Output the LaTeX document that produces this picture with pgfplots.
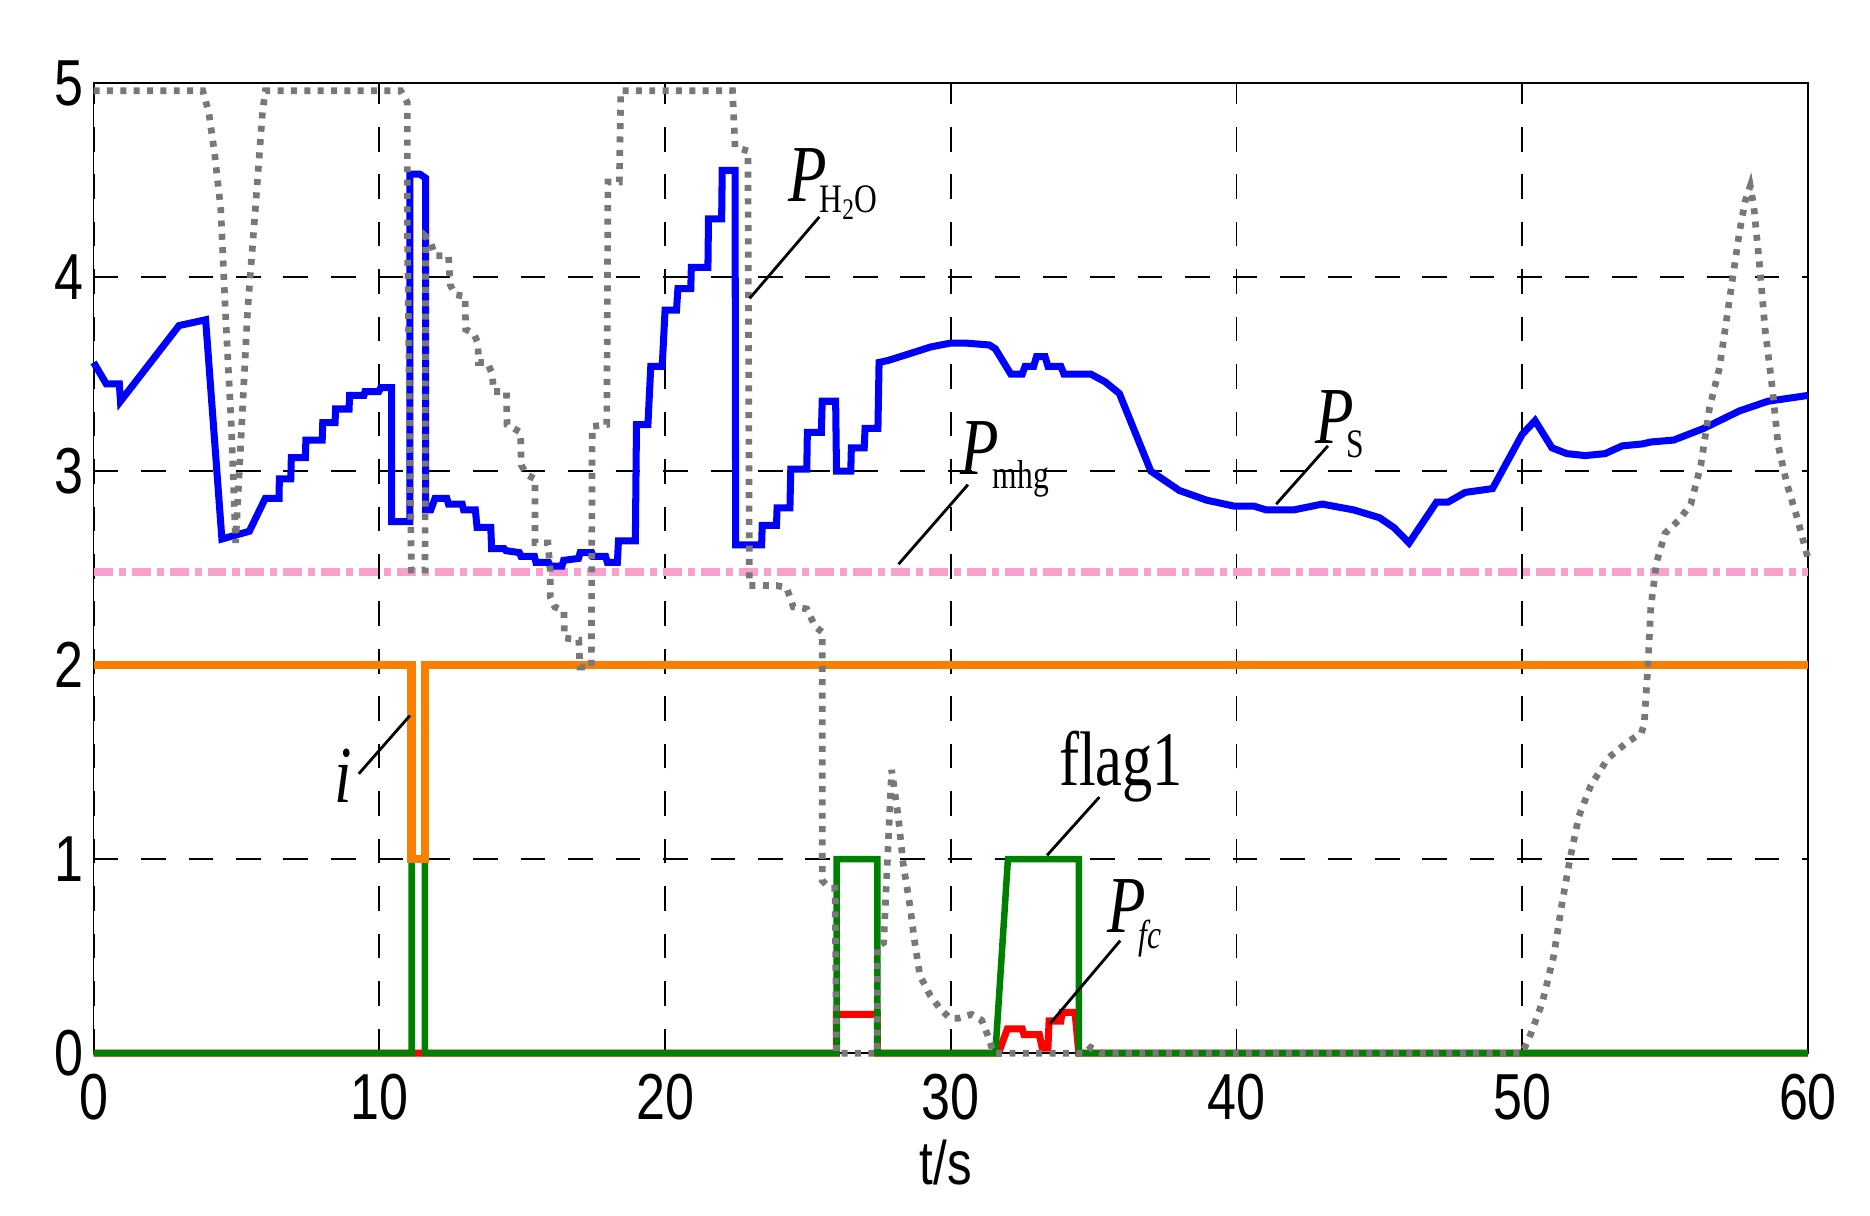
\documentclass[border=0pt]{standalone}
\usepackage{pgfplots}
\pgfplotsset{compat=1.18}
\usepackage{fontspec}
\setmainfont[FakeStretch=0.78]{Liberation Serif}
\newfontfamily\tickfont[FakeStretch=0.8]{Liberation Sans}

\definecolor{cblue}{RGB}{0,0,255}
\definecolor{cgreen}{RGB}{0,128,0}
\definecolor{corange}{RGB}{248,128,0}
\definecolor{cred}{RGB}{255,0,0}
\definecolor{cgray}{RGB}{120,120,120}
\definecolor{cpink}{RGB}{250,160,205}

\newcommand{\lblfont}{\fontsize{23}{23}\selectfont}
\newcommand{\subfont}{\fontsize{11.5}{11.5}\selectfont}

\begin{document}
\begin{tikzpicture}
\useasboundingbox (-0.936,-1.62) rectangle (17.76,10.53);
\begin{axis}[
    scale only axis,
    width=17.14cm,
    height=9.70cm,
    xmin=0, xmax=60,
    ymin=0, ymax=5,
    xtick={0,10,20,30,40,50,60},
    ytick={0,1,2,3,4,5},
    major tick length=0pt,
    axis line style={line width=0.5pt},
    xmajorgrids=true,
    ymajorgrids=true,
    grid style={black, line width=0.55pt, dash pattern=on 7pt off 6.5pt},
    /pgf/number format/assume math mode=true,
    ticklabel style={font=\tickfont\fontsize{18.5}{18.5}\selectfont, inner sep=0pt},
    xticklabel style={anchor=north, yshift=-0.2cm},
    yticklabel style={anchor=east, xshift=-0.09cm},
    xlabel={t/s},
    xlabel style={font=\tickfont\fontsize{17.5}{17.5}\selectfont, at={(axis description cs:0.497,-0.113)}, anchor=center},
    clip=false,
]

% P_mhg
\addplot[cpink, line width=2.4pt, dash pattern=on 5.4pt off 1.7pt on 2pt off 1.7pt]
coordinates {(0,2.48) (60,2.48)};

% P_fc
\addplot[cred, line width=2pt]
coordinates {
(0,0) (26.0,0) (26.0,0.2) (27.43,0.2) (27.43,0) (31.67,0) (31.98,0.126)
(32.5,0.126) (32.56,0.096) (33.1,0.096) (33.2,0.026) (33.4,0.026)
(33.44,0.166) (33.85,0.166) (33.9,0.21) (34.35,0.21) (34.48,0) (60,0)
};

% flag1
\addplot[cgreen, line width=1.85pt]
coordinates {
(0,0) (11.13,0) (11.13,1) (11.59,1) (11.59,0) (26.0,0) (26.0,1)
(27.43,1) (27.43,0) (31.56,0) (32.0,1) (34.48,1) (34.48,0) (60,0)
};

% i
\addplot[corange, line width=2.4pt]
coordinates {(0,2) (11.13,2) (11.13,1) (11.59,1) (11.59,2) (60,2)};

% P_S
\addplot[cblue, line width=2pt]
coordinates {
(0,3.56) (0.44,3.45) (0.9,3.45) (0.94,3.36) (2.99,3.75) (3.92,3.78)
(4.49,2.65) (5.45,2.69) (6.01,2.86) (6.49,2.86) (6.5,2.96) (6.9,2.96)
(6.92,3.07) (7.41,3.07) (7.43,3.16) (8.0,3.16) (8.02,3.25) (8.45,3.25)
(8.47,3.32) (8.94,3.32) (8.96,3.39) (9.46,3.39) (9.5,3.41) (9.98,3.41)
(10.05,3.43) (10.43,3.43) (10.43,2.74) (11.07,2.74) (11.07,4.53)
(11.42,4.53) (11.62,4.51) (11.62,2.80) (11.8,2.80) (11.95,2.86)
(12.36,2.86) (12.42,2.83) (12.9,2.83) (12.95,2.80) (13.36,2.80)
(13.42,2.71) (13.9,2.71) (13.93,2.60) (14.37,2.60) (14.43,2.59)
(14.9,2.58) (14.96,2.56) (15.43,2.56) (15.48,2.53) (15.92,2.53)
(15.98,2.51) (16.39,2.51) (16.45,2.54) (16.97,2.55) (17.03,2.58)
(17.43,2.58) (17.48,2.56) (17.92,2.56) (17.98,2.53) (18.33,2.53)
(18.37,2.64) (18.96,2.64) (19.0,3.24) (19.4,3.24) (19.5,3.54) (19.9,3.54)
(20.0,3.83) (20.4,3.83) (20.45,3.94) (20.9,3.94) (20.92,4.05) (21.5,4.05)
(21.52,4.30) (21.98,4.30) (22.0,4.55) (22.45,4.55) (22.47,2.62)
(23.38,2.62) (23.4,2.72) (23.9,2.72) (23.92,2.81) (24.37,2.81)
(24.4,3.01) (24.96,3.01) (24.98,3.20) (25.47,3.20) (25.5,3.36)
(25.97,3.36) (26.0,3.0) (26.5,3.0) (26.52,3.12) (26.97,3.12)
(27.0,3.22) (27.45,3.22) (27.49,3.56) (27.8,3.57) (28.45,3.60)
(29.3,3.64) (30,3.66) (30.5,3.66) (31.35,3.65) (31.56,3.63) (32.1,3.50)
(32.5,3.50) (32.6,3.54) (32.9,3.54) (33.0,3.59) (33.3,3.59) (33.4,3.54)
(33.85,3.54) (33.96,3.50) (34.9,3.50) (35.4,3.46) (35.9,3.40) (37.0,3.00)
(37.4,2.96) (38.0,2.90) (38.96,2.85) (39.9,2.82) (40.6,2.82) (41.04,2.80)
(42.0,2.80) (43.0,2.83) (44.1,2.80) (45.0,2.76) (45.5,2.71) (46.04,2.63)
(47.0,2.84) (47.4,2.84) (48.0,2.89) (48.96,2.91) (50.0,3.19) (50.45,3.26)
(51.04,3.12) (51.56,3.09) (52.2,3.08) (52.9,3.09) (53.5,3.13) (54.2,3.14)
(54.5,3.15) (55.3,3.16) (56.35,3.22) (57.6,3.31) (58.6,3.36) (60,3.39)
};

% P_H2O
\addplot[cgray, line width=1.9pt, dash pattern=on 1.7pt off 2.1pt]
coordinates {
(0,4.96) (3.82,4.96) (4.03,4.85) (4.24,4.63) (4.45,4.35) (4.61,3.83)
(4.82,3.23) (4.97,2.63) (5.18,3.23) (5.39,3.83) (5.66,4.35) (5.8,4.63)
(5.91,4.85) (6.01,4.96) (10.75,4.96) (10.98,4.9) (10.98,4.28)
(11.12,2.49) (11.6,2.49) (11.62,4.21) (11.77,4.19) (11.95,4.11)
(12.42,4.11) (12.48,3.96) (12.65,3.91) (13.0,3.9) (13.02,3.73)
(13.3,3.71) (13.45,3.66) (13.47,3.56) (13.78,3.56) (13.95,3.5)
(14.0,3.41) (14.45,3.41) (14.47,3.24) (14.94,3.2) (14.97,3.03)
(15.17,2.98) (15.45,2.96) (15.45,2.63) (15.9,2.63) (15.98,2.49)
(15.98,2.35) (16.14,2.3) (16.46,2.28) (16.48,2.14) (16.98,2.13)
(17.02,1.99) (17.42,1.99) (17.45,3.23) (17.96,3.24) (18.0,4.49)
(18.4,4.49) (18.45,4.96) (22.36,4.96) (22.45,4.67) (22.9,4.65)
(22.95,2.41) (23.9,2.41) (24.25,2.40) (24.49,2.3) (24.96,2.29)
(25.25,2.2) (25.5,2.17) (25.5,0.89) (25.77,0.85) (25.95,0.85) (26.0,0)
(27.43,0) (27.43,0.55) (27.65,0.57) (27.93,1.46) (28.16,1.22)
(28.33,0.98) (28.57,0.76) (28.74,0.57) (28.92,0.4) (29.27,0.3)
(29.62,0.23) (29.97,0.18) (30.26,0.18) (30.73,0.2) (31.08,0.17)
(31.3,0.09) (31.5,0.0) (34.7,0) (34.9,0.03) (35.3,0) (50,0) (50.3,0.1)
(50.7,0.26) (51.1,0.5) (51.4,0.78) (51.67,1.0) (51.98,1.22) (52.4,1.38)
(53.0,1.52) (53.65,1.6) (54.17,1.65) (54.27,1.7) (54.4,2.0) (54.5,2.3)
(54.7,2.53) (55.0,2.68) (55.5,2.75) (55.9,2.83) (56.25,3.03) (56.56,3.33)
(56.9,3.53) (57.2,3.83) (57.4,4.03) (57.6,4.23) (57.8,4.39) (57.98,4.47)
(58.1,4.37) (58.3,4.07) (58.5,3.73) (58.75,3.43) (58.96,3.13)
(59.27,2.93) (59.6,2.77) (60,2.55)
};

% annotations
\draw[line width=0.8pt] (axis cs:25.4,4.31) -- (axis cs:22.96,3.89);
\node[anchor=base west, inner sep=0pt] at (axis cs:24.30,4.39)
  {\lblfont\itshape P\kern-0.075cm\raisebox{-0.116cm}{\subfont\upshape H\raisebox{-0.35ex}{\fontsize{8.5}{8.5}\selectfont 2}O}};

\draw[line width=0.8pt] (axis cs:30.6,2.93) -- (axis cs:28.17,2.52);
\node[anchor=base west, inner sep=0pt] at (axis cs:30.33,2.98)
  {\lblfont\itshape P\kern-0.067cm\raisebox{-0.136cm}{\subfont\upshape mhg}};

\draw[line width=0.8pt] (axis cs:43.2,3.13) -- (axis cs:41.39,2.83);
\node[anchor=base west, inner sep=0pt] at (axis cs:42.74,3.14)
  {\lblfont\itshape P\kern-0.072cm\raisebox{-0.136cm}{\subfont\upshape S}};

\draw[line width=0.8pt] (axis cs:11.07,1.74) -- (axis cs:9.28,1.44);
\node[anchor=base, inner sep=0pt] at (axis cs:8.73,1.29) {\lblfont\itshape i};

\draw[line width=0.8pt] (axis cs:35.2,1.32) -- (axis cs:33.37,1.02);
\node[anchor=base, inner sep=0pt] at (axis cs:35.96,1.38) {\fontsize{22}{22}\selectfont flag1};

\draw[line width=0.8pt] (axis cs:35.93,0.58) -- (axis cs:33.46,0.15);
\node[anchor=base west, inner sep=0pt] at (axis cs:35.46,0.62)
  {\lblfont\itshape P\kern-0.072cm\raisebox{-0.155cm}{\subfont fc}};

\end{axis}
\end{tikzpicture}
\end{document}
